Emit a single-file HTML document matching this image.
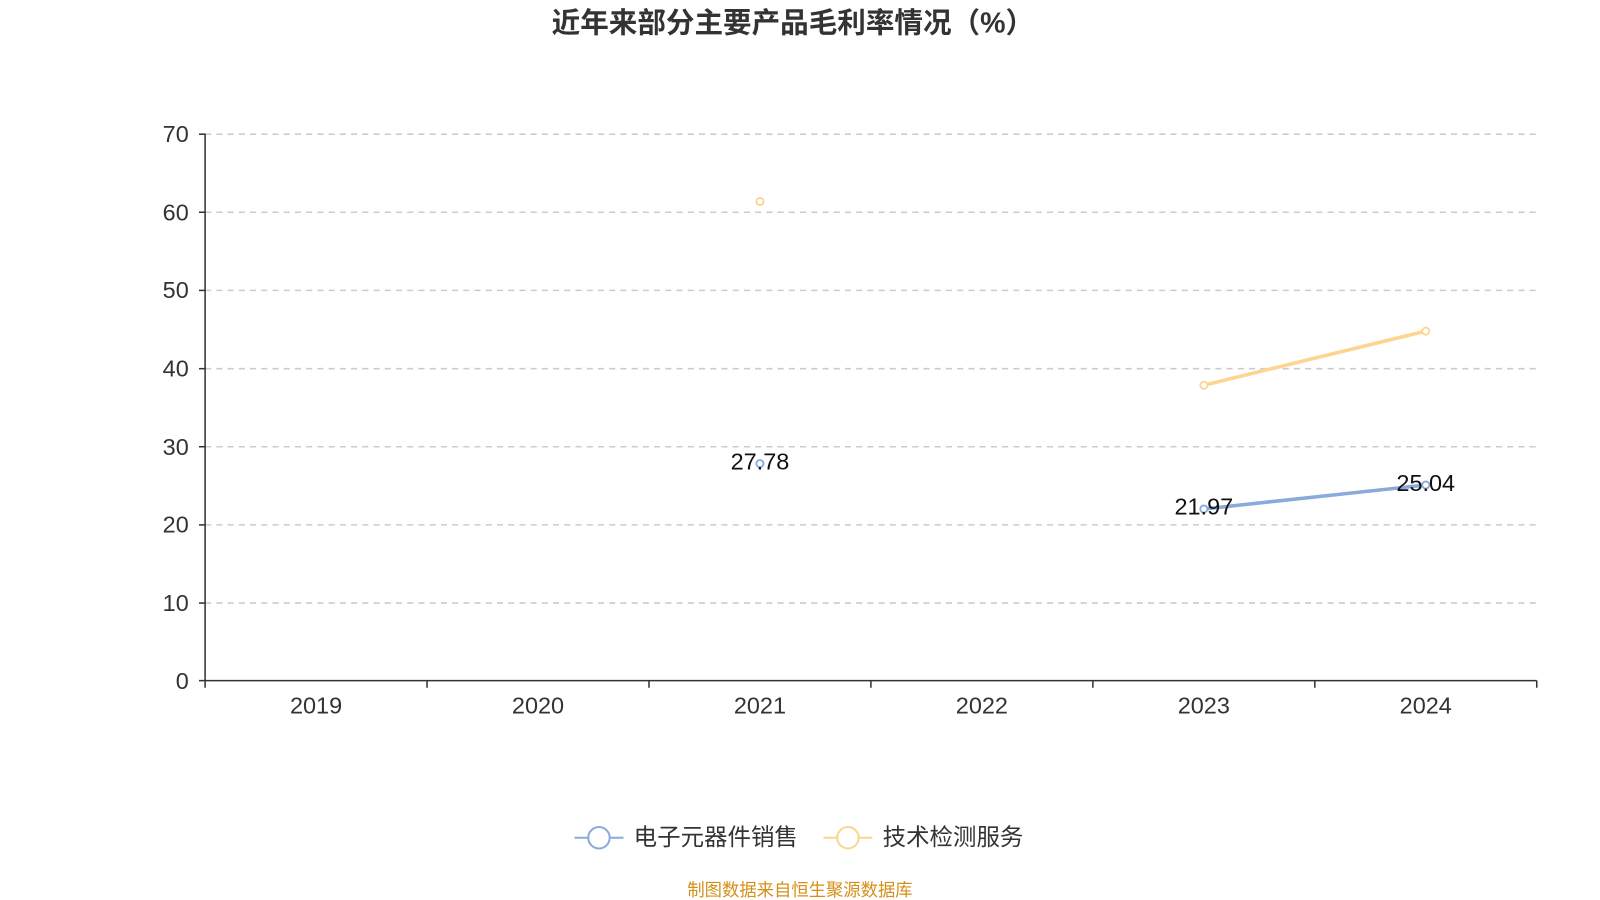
<!DOCTYPE html>
<html><head><meta charset="utf-8"><style>
html,body{margin:0;padding:0;background:#fff;}
svg{display:block;font-family:"Liberation Sans","Noto Sans CJK SC",sans-serif;}
</style></head><body>
<svg width="1600" height="900" viewBox="0 0 1568 882" xmlns="http://www.w3.org/2000/svg">
<text x="777" y="32" text-anchor="middle" font-size="28" font-weight="bold" fill="#333">近年来部分主要产品毛利率情况（%）</text>
<g stroke="#ccc" stroke-width="1.5" stroke-dasharray="6,5">
<line x1="201" y1="131.5" x2="1506" y2="131.5"/>
<line x1="201" y1="208" x2="1506" y2="208"/>
<line x1="201" y1="284.6" x2="1506" y2="284.6"/>
<line x1="201" y1="361.3" x2="1506" y2="361.3"/>
<line x1="201" y1="437.8" x2="1506" y2="437.8"/>
<line x1="201" y1="514.4" x2="1506" y2="514.4"/>
<line x1="201" y1="591" x2="1506" y2="591"/>
</g>
<g stroke="#333" stroke-width="1.5">
<line x1="201" y1="131" x2="201" y2="667"/>
<line x1="201" y1="667" x2="1506" y2="667"/>
<line x1="195" y1="131.5" x2="201" y2="131.5"/><line x1="195" y1="208" x2="201" y2="208"/>
<line x1="195" y1="284.6" x2="201" y2="284.6"/><line x1="195" y1="361.3" x2="201" y2="361.3"/>
<line x1="195" y1="437.8" x2="201" y2="437.8"/><line x1="195" y1="514.4" x2="201" y2="514.4"/>
<line x1="195" y1="591" x2="201" y2="591"/><line x1="195" y1="667" x2="201" y2="667"/>
<line x1="201" y1="667" x2="201" y2="674"/><line x1="418.5" y1="667" x2="418.5" y2="674"/>
<line x1="636" y1="667" x2="636" y2="674"/><line x1="853.5" y1="667" x2="853.5" y2="674"/>
<line x1="1071" y1="667" x2="1071" y2="674"/><line x1="1288.5" y1="667" x2="1288.5" y2="674"/>
<line x1="1506" y1="667" x2="1506" y2="674"/>
</g>
<g font-size="23" fill="#333" text-anchor="end">
<text x="185" y="139">70</text><text x="185" y="216">60</text><text x="185" y="292">50</text>
<text x="185" y="369">40</text><text x="185" y="446">30</text><text x="185" y="522">20</text>
<text x="185" y="599">10</text><text x="185" y="675">0</text>
</g>
<g font-size="23" fill="#333" text-anchor="middle">
<text x="309.75" y="699">2019</text><text x="527.25" y="699">2020</text><text x="744.75" y="699">2021</text>
<text x="962.25" y="699">2022</text><text x="1179.75" y="699">2023</text><text x="1397.25" y="699">2024</text>
</g>
<polyline points="1179.75,377.5 1397.25,324.5" fill="none" stroke="#fdd58f" stroke-width="3.5"/>
<polyline points="1179.75,498.8 1397.25,475.3" fill="none" stroke="#89aadb" stroke-width="3.5"/>
<g fill="#fff" stroke="#fdd58f" stroke-width="1.8">
<circle cx="744.75" cy="197.5" r="3.5"/><circle cx="1179.75" cy="377.5" r="3.5"/><circle cx="1397.25" cy="324.5" r="3.5"/>
</g>
<g fill="#fff" stroke="#89aadb" stroke-width="1.8">
<circle cx="744.75" cy="454.3" r="3.5"/><circle cx="1179.75" cy="498.8" r="3.5"/><circle cx="1397.25" cy="475.3" r="3.5"/>
</g>
<g font-size="23" fill="#111" text-anchor="middle">
<text x="744.75" y="460">27.78</text><text x="1179.75" y="504">21.97</text><text x="1397.25" y="481">25.04</text>
</g>
<line x1="563" y1="821" x2="611" y2="821" stroke="#89aadb" stroke-width="2"/>
<circle cx="587" cy="821" r="10.5" fill="#fff" stroke="#89aadb" stroke-width="2"/>
<text x="621" y="828" font-size="23" fill="#333">电子元器件销售</text>
<line x1="807" y1="821" x2="855" y2="821" stroke="#fdd58f" stroke-width="2"/>
<circle cx="831" cy="821" r="10.5" fill="#fff" stroke="#fdd58f" stroke-width="2"/>
<text x="865" y="828" font-size="23" fill="#333">技术检测服务</text>
<text x="784" y="878" text-anchor="middle" font-size="17" fill="#d4901a">制图数据来自恒生聚源数据库</text>
</svg>
</body></html>
